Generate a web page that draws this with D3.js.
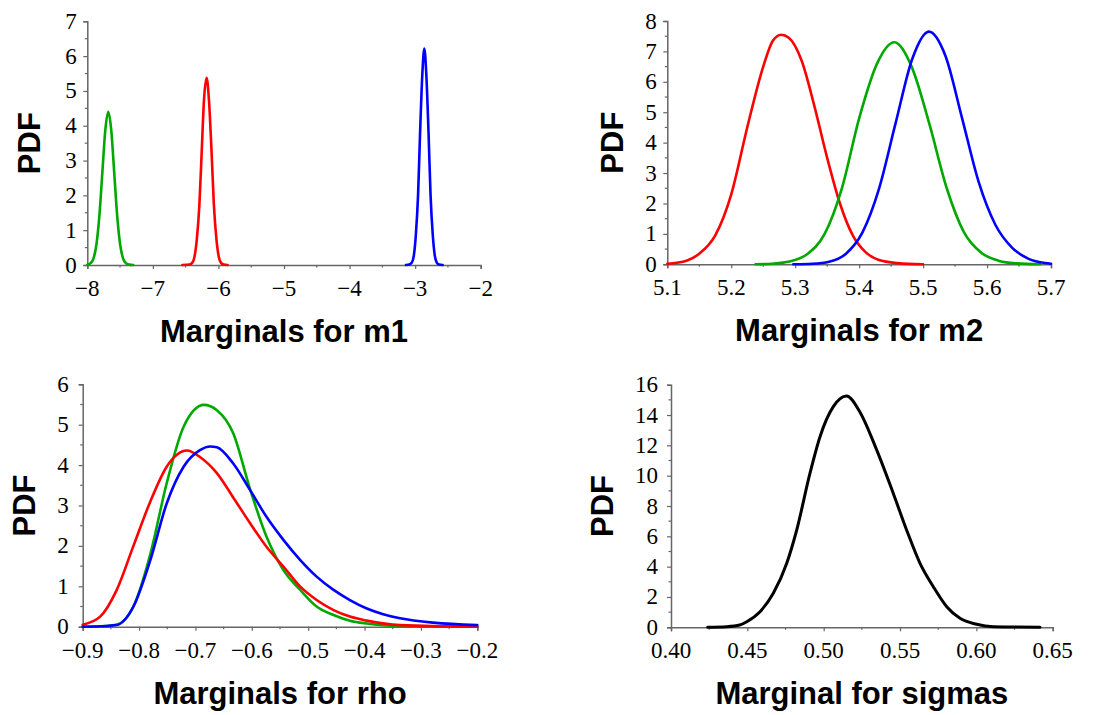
<!DOCTYPE html>
<html>
<head>
<meta charset="utf-8">
<script src="https://cdn.jsdelivr.net/npm/d3@7"></script>
<style>
  html, body { margin: 0; padding: 0; background: #fff; }
  svg { display: block; }
</style>
</head>
<body>
<svg id="chart" width="1099" height="715"></svg>
<script>
// ---------- Data ----------
// Panel 1: Marginals for m1
const m1GreenX = [-8.0, -7.95, -7.905, -7.86, -7.815, -7.77, -7.725, -7.68, -7.635, -7.59, -7.545, -7.5, -7.455, -7.41, -7.36, -7.3];
const m1GreenY = [0.01, 0.05, 0.19, 0.6, 1.43, 2.67, 3.88, 4.4, 3.88, 2.67, 1.43, 0.6, 0.19, 0.05, 0.01, 0];
const m1RedX = [-6.55, -6.44, -6.40, -6.365, -6.33, -6.29, -6.255, -6.22, -6.18, -6.145, -6.105, -6.07, -6.03, -5.995, -5.96, -5.92, -5.86];
const m1RedY = [0, 0.012, 0.06, 0.24, 0.73, 1.75, 3.26, 4.75, 5.38, 4.75, 3.26, 1.75, 0.73, 0.24, 0.06, 0.012, 0];
const m1BlueX = [-3.14, -3.09, -3.05, -3.02, -2.99, -2.955, -2.925, -2.89, -2.86, -2.83, -2.795, -2.765, -2.73, -2.70, -2.67, -2.635, -2.58];
const m1BlueY = [0, 0.014, 0.07, 0.27, 0.84, 2.02, 3.77, 5.49, 6.22, 5.49, 3.77, 2.02, 0.84, 0.27, 0.07, 0.014, 0];
const m1XTicks = [-8, -7, -6, -5, -4, -3, -2];
const m1YTicks = [0, 1, 2, 3, 4, 5, 6, 7];

// Panel 2: Marginals for m2
const m2RedX = [5.10, 5.13, 5.15, 5.175, 5.20, 5.225, 5.25, 5.265, 5.278, 5.29, 5.31, 5.33, 5.35, 5.37, 5.39, 5.41, 5.43, 5.46, 5.50];
const m2RedY = [0.02, 0.12, 0.35, 0.95, 2.3, 4.5, 6.5, 7.35, 7.55, 7.45, 6.7, 5.2, 3.5, 2.0, 0.95, 0.4, 0.15, 0.04, 0];
const m2GreenX = [5.238, 5.264, 5.291, 5.3185, 5.346, 5.373, 5.40, 5.428, 5.455, 5.482, 5.51, 5.537, 5.564, 5.591, 5.619, 5.646, 5.683];
const m2GreenY = [0, 0.02, 0.09, 0.33, 1.0, 2.5, 4.8, 6.6, 7.3, 6.5, 4.6, 2.5, 1.05, 0.38, 0.11, 0.03, 0];
const m2BlueX = [5.297, 5.327, 5.353, 5.379, 5.405, 5.431, 5.457, 5.483, 5.509, 5.535, 5.561, 5.587, 5.613, 5.639, 5.665, 5.691, 5.70];
const m2BlueY = [0, 0.017, 0.085, 0.34, 1.04, 2.48, 4.64, 6.75, 7.65, 6.85, 4.8, 2.7, 1.3, 0.55, 0.18, 0.04, 0.02];
const m2XTicks = [5.1, 5.2, 5.3, 5.4, 5.5, 5.6, 5.7];
const m2YTicks = [0, 1, 2, 3, 4, 5, 6, 7, 8];

// Panel 3: Marginals for rho
const rhoRedX = [-0.9, -0.869, -0.84, -0.81, -0.78, -0.751, -0.715, -0.692, -0.662, -0.633, -0.603, -0.574, -0.544, -0.514, -0.485, -0.455, -0.426, -0.396, -0.337, -0.2];
const rhoRedY = [0.05, 0.25, 0.9, 2.0, 3.1, 3.96, 4.36, 4.2, 3.8, 3.2, 2.56, 1.98, 1.49, 0.99, 0.66, 0.41, 0.25, 0.15, 0.04, 0];
const rhoGreenX = [-0.9, -0.869, -0.84, -0.81, -0.78, -0.751, -0.721, -0.685, -0.662, -0.633, -0.603, -0.574, -0.544, -0.514, -0.485, -0.455, -0.426, -0.396, -0.337, -0.2];
const rhoGreenY = [0, 0.01, 0.05, 0.5, 1.8, 3.55, 4.95, 5.49, 5.36, 4.79, 3.4, 2.23, 1.4, 0.91, 0.5, 0.29, 0.15, 0.08, 0.02, 0];
const rhoBlueX = [-0.9, -0.869, -0.84, -0.81, -0.78, -0.751, -0.721, -0.692, -0.674, -0.662, -0.633, -0.603, -0.574, -0.544, -0.514, -0.485, -0.455, -0.426, -0.396, -0.367, -0.337, -0.278, -0.2];
const rhoBlueY = [0, 0.01, 0.04, 0.5, 1.65, 3.05, 3.96, 4.37, 4.46, 4.44, 4.04, 3.38, 2.72, 2.15, 1.65, 1.24, 0.91, 0.66, 0.45, 0.31, 0.21, 0.1, 0.04];
const rhoXTicks = [-0.9, -0.8, -0.7, -0.6, -0.5, -0.4, -0.3, -0.2];
const rhoYTicks = [0, 1, 2, 3, 4, 5, 6];

// Panel 4: Marginal for sigmas
const sigX = [0.424, 0.4365, 0.445, 0.4496, 0.4583, 0.467, 0.4758, 0.4823, 0.491, 0.4976, 0.5063, 0.515, 0.5237, 0.5347, 0.5456, 0.5543, 0.5631, 0.5718, 0.5806, 0.5893, 0.6002, 0.6111, 0.6417];
const sigY = [0, 0.04, 0.15, 0.37, 1.03, 2.24, 4.22, 6.4, 10.15, 12.57, 14.55, 15.25, 14.2, 11.7, 8.83, 6.42, 4.22, 2.68, 1.36, 0.59, 0.2, 0.04, 0];
const sigXTicks = [0.40, 0.45, 0.50, 0.55, 0.60, 0.65];
const sigYTicks = [0, 2, 4, 6, 8, 10, 12, 14, 16];

const GREEN = "#00a800", RED = "#ff0000", BLUE = "#0000ff", BLACK = "#000000";

// ---------- Drawing ----------
const svg = d3.select("#chart");
const minus = s => s.replace(/-/g, "\u2212");
const SERIF = "'Liberation Serif', 'Times New Roman', 'DejaVu Serif', serif";
const SANS = "'Liberation Sans', Arial, sans-serif";

function panel(cfg) {
  const x = d3.scaleLinear().domain(cfg.xDomain).range([cfg.x0, cfg.x1]);
  const y = d3.scaleLinear().domain(cfg.yDomain).range([cfg.y0, cfg.y1]);
  const g = svg.append("g");

  const xMinor = d3.range(cfg.xDomain[0], cfg.xDomain[1] + 1e-9, cfg.xMinorStep)
    .filter(v => !cfg.xTicks.some(t => Math.abs(t - v) < 1e-9));
  const yMinor = d3.range(cfg.yDomain[0], cfg.yDomain[1] + 1e-9, cfg.yMinorStep)
    .filter(v => !cfg.yTicks.some(t => Math.abs(t - v) < 1e-9));

  const axisColor = "#666";
  // x axis
  const xa = g.append("g").attr("transform", `translate(0,${cfg.y0})`)
    .call(d3.axisBottom(x).tickValues(cfg.xTicks).tickSize(4).tickFormat(""));
  xa.select(".domain").attr("stroke", axisColor).attr("stroke-width", 1.5);
  xa.selectAll(".tick line").attr("stroke", axisColor).attr("stroke-width", 1.2);
  xa.selectAll(".tick text").remove();
  xa.selectAll("line.minor").data(xMinor).enter().append("line").attr("class", "minor")
    .attr("x1", d => x(d)).attr("x2", d => x(d)).attr("y1", 0).attr("y2", 2.5)
    .attr("stroke", axisColor).attr("stroke-width", 1.2);
  g.selectAll("text.xlab").data(cfg.xTicks).enter().append("text").attr("class", "xlab")
    .attr("x", d => x(d)).attr("y", cfg.y0 + 31)
    .attr("text-anchor", "middle")
    .style("font-family", SERIF).style("font-size", "23px").style("fill", "#000")
    .text(d => minus(d3.format(cfg.xFmt)(d)));

  // y axis
  const ya = g.append("g").attr("transform", `translate(${cfg.x0},0)`)
    .call(d3.axisLeft(y).tickValues(cfg.yTicks).tickSize(4).tickFormat(""));
  ya.select(".domain").attr("stroke", axisColor).attr("stroke-width", 1.5);
  ya.selectAll(".tick line").attr("stroke", axisColor).attr("stroke-width", 1.2);
  ya.selectAll(".tick text").remove();
  ya.selectAll("line.minor").data(yMinor).enter().append("line").attr("class", "minor")
    .attr("x1", -2.5).attr("x2", 0).attr("y1", d => y(d)).attr("y2", d => y(d))
    .attr("stroke", axisColor).attr("stroke-width", 1.2);
  g.selectAll("text.ylab").data(cfg.yTicks).enter().append("text").attr("class", "ylab")
    .attr("x", cfg.x0 - cfg.yGap).attr("y", d => y(d) + 7.5)
    .attr("text-anchor", "end")
    .style("font-family", SERIF).style("font-size", "23px").style("fill", "#000")
    .text(d => d3.format("d")(d));

  // curves
  const line = d3.line().x(d => x(d[0])).y(d => y(d[1])).curve(d3.curveMonotoneX);
  cfg.series.forEach(s => {
    const pts = s.xs.map((v, i) => [v, s.ys[i]]);
    g.append("path").datum(pts).attr("d", line)
      .attr("fill", "none").attr("stroke", s.color)
      .attr("stroke-width", s.width || 2.6)
      .attr("stroke-linejoin", "round").attr("stroke-linecap", "round");
  });

  // titles
  g.append("text").attr("x", (cfg.x0 + cfg.x1) / 2).attr("y", cfg.y0 + 77)
    .attr("text-anchor", "middle")
    .style("font-family", SANS)
    .style("font-weight", "bold").style("font-size", "31px").text(cfg.title);
  g.append("text")
    .attr("transform", `translate(${cfg.pdfX},${(cfg.y0 + cfg.y1) / 2}) rotate(-90)`)
    .attr("text-anchor", "middle")
    .style("font-family", SANS)
    .style("font-weight", "bold").style("font-size", "31px").text("PDF");
}

panel({
  xDomain: [-8, -2], yDomain: [0, 7], x0: 87.3, x1: 480.7, y0: 265, y1: 21.3,
  xTicks: m1XTicks, yTicks: m1YTicks, xMinorStep: 0.5, yMinorStep: 0.5, xFmt: "d",
  pdfX: 40, yGap: 10.5, title: "Marginals for m1",
  series: [
    { xs: m1GreenX, ys: m1GreenY, color: GREEN },
    { xs: m1RedX, ys: m1RedY, color: RED },
    { xs: m1BlueX, ys: m1BlueY, color: BLUE }
  ]
});

panel({
  xDomain: [5.1, 5.7], yDomain: [0, 8], x0: 667.3, x1: 1051, y0: 264.3, y1: 21,
  xTicks: m2XTicks, yTicks: m2YTicks, xMinorStep: 0.05, yMinorStep: 0.5, xFmt: ".1f",
  pdfX: 623, yGap: 10.5, title: "Marginals for m2",
  series: [
    { xs: m2RedX, ys: m2RedY, color: RED },
    { xs: m2GreenX, ys: m2GreenY, color: GREEN },
    { xs: m2BlueX, ys: m2BlueY, color: BLUE }
  ]
});

panel({
  xDomain: [-0.9, -0.2], yDomain: [0, 6], x0: 82.7, x1: 477.3, y0: 626.7, y1: 384.3,
  xTicks: rhoXTicks, yTicks: rhoYTicks, xMinorStep: 0.05, yMinorStep: 0.5, xFmt: ".1f",
  pdfX: 35, yGap: 14, title: "Marginals for rho",
  series: [
    { xs: rhoGreenX, ys: rhoGreenY, color: GREEN },
    { xs: rhoRedX, ys: rhoRedY, color: RED },
    { xs: rhoBlueX, ys: rhoBlueY, color: BLUE }
  ]
});

panel({
  xDomain: [0.40, 0.65], yDomain: [0, 16], x0: 671, x1: 1052.7, y0: 627.3, y1: 384.7,
  xTicks: sigXTicks, yTicks: sigYTicks, xMinorStep: 0.025, yMinorStep: 1, xFmt: ".2f",
  pdfX: 613, yGap: 13, title: "Marginal for sigmas",
  series: [
    { xs: sigX, ys: sigY, color: BLACK, width: 3 }
  ]
});
</script>
</body>
</html>
